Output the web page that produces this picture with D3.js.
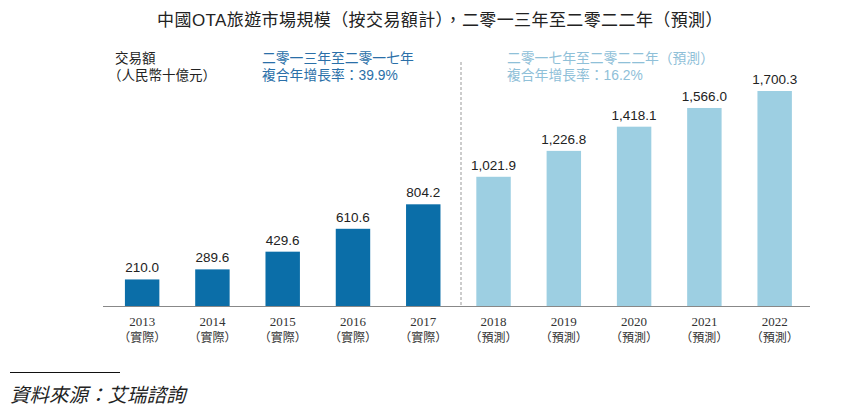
<!DOCTYPE html>
<html>
<head>
<meta charset="utf-8">
<script src="https://d3js.org/d3.v7.min.js"></script>
<style>
  body { margin: 0; background: #fff; }
  svg { display: block; }
  .sans { font-family: "Liberation Sans", Arial, "Noto Sans CJK TC", sans-serif; }
  .serif { font-family: "Liberation Serif", "Times New Roman", "Noto Sans CJK TC", serif; }
</style>
</head>
<body>
<div id="chart"></div>
<script>
// data
var years = ["2013", "2014", "2015", "2016", "2017", "2018", "2019", "2020", "2021", "2022"];
var yearNotes = ["（實際）", "（實際）", "（實際）", "（實際）", "（實際）", "（預測）", "（預測）", "（預測）", "（預測）", "（預測）"];
var values = [210.0, 289.6, 429.6, 610.6, 804.2, 1021.9, 1226.8, 1418.1, 1566.0, 1700.3];
var forecast = [false, false, false, false, false, true, true, true, true, true];

var darkBlue = "#0b6ea8";
var lightBlue = "#9dcfe2";

const W = 843, H = 412;
const svg = d3.select("#chart").append("svg")
  .attr("width", W).attr("height", H);

// scales
var x = d3.scaleBand()
  .domain(years)
  .range([107, 809.8])
  .paddingInner(0.51)
  .paddingOuter(0.255);

var y = d3.scaleLinear()
  .domain([0, 1700.3])
  .range([306, 91]);

// title
svg.append("text").attr("class", "sans")
  .attr("x", 440).attr("y", 26)
  .attr("text-anchor", "middle")
  .style("font-size", "17px").style("letter-spacing", "0.4px").style("fill", "#222")
  .text("中國OTA旅遊市場規模（按交易額計），二零一三年至二零二二年（預測）");

// unit label
svg.append("text").attr("class", "sans").attr("x", 115).attr("y", 63)
  .style("font-size", "13.5px").style("fill", "#222").text("交易額");
svg.append("text").attr("class", "sans").attr("x", 108).attr("y", 80)
  .style("font-size", "13.5px").style("fill", "#222").text("（人民幣十億元）");

// CAGR notes
svg.append("text").attr("class", "sans").attr("x", 262).attr("y", 63)
  .style("font-size", "13.8px").style("fill", "#2a6fa8").text("二零一三年至二零一七年");
svg.append("text").attr("class", "sans").attr("x", 262).attr("y", 80)
  .style("font-size", "13.8px").style("fill", "#2a6fa8").text("複合年增長率：39.9%");
svg.append("text").attr("class", "sans").attr("x", 507).attr("y", 63)
  .style("font-size", "13.8px").style("fill", "#8fc0d8").text("二零一七年至二零二二年（預測）");
svg.append("text").attr("class", "sans").attr("x", 507).attr("y", 80)
  .style("font-size", "13.8px").style("fill", "#8fc0d8").text("複合年增長率：16.2%");

// dashed divider
svg.append("line")
  .attr("x1", 461).attr("x2", 461).attr("y1", 62).attr("y2", 306)
  .attr("stroke", "#999").attr("stroke-width", 1).attr("stroke-dasharray", "3,2");

// bars
svg.selectAll("rect.bar")
  .data(years)
  .join("rect")
  .attr("class", "bar")
  .attr("x", d => x(d))
  .attr("y", (d, i) => y(values[i]))
  .attr("width", x.bandwidth())
  .attr("height", (d, i) => y(0) - y(values[i]))
  .attr("fill", (d, i) => forecast[i] ? lightBlue : darkBlue);

// value labels
svg.selectAll("text.val")
  .data(years)
  .join("text")
  .attr("class", "val sans")
  .attr("x", d => x(d) + x.bandwidth() / 2)
  .attr("y", (d, i) => y(values[i]) - 7)
  .attr("text-anchor", "middle")
  .style("font-size", "13.5px").style("fill", "#222")
  .text((d, i) => d3.format(",.1f")(values[i]));

// axis line
svg.append("line")
  .attr("x1", 103).attr("x2", 810).attr("y1", 306.5).attr("y2", 306.5)
  .attr("stroke", "#888").attr("stroke-width", 1.2);

// x labels
svg.selectAll("text.yr")
  .data(years)
  .join("text")
  .attr("class", "yr serif")
  .attr("x", d => x(d) + x.bandwidth() / 2)
  .attr("y", 326)
  .attr("text-anchor", "middle")
  .style("font-size", "13px").style("fill", "#333")
  .text(d => d);
svg.selectAll("text.note")
  .data(years)
  .join("text")
  .attr("class", "note serif")
  .attr("x", d => x(d) + x.bandwidth() / 2)
  .attr("y", 342)
  .attr("text-anchor", "middle")
  .style("font-size", "12px").style("fill", "#333")
  .text((d, i) => yearNotes[i]);

// source
svg.append("line")
  .attr("x1", 10).attr("x2", 120).attr("y1", 372.5).attr("y2", 372.5)
  .attr("stroke", "#111").attr("stroke-width", 1);
svg.append("text").attr("class", "serif")
  .attr("x", 10).attr("y", 402)
  .style("font-size", "19.5px").style("font-style", "italic").style("fill", "#222")
  .text("資料來源：艾瑞諮詢");
</script>
</body>
</html>
